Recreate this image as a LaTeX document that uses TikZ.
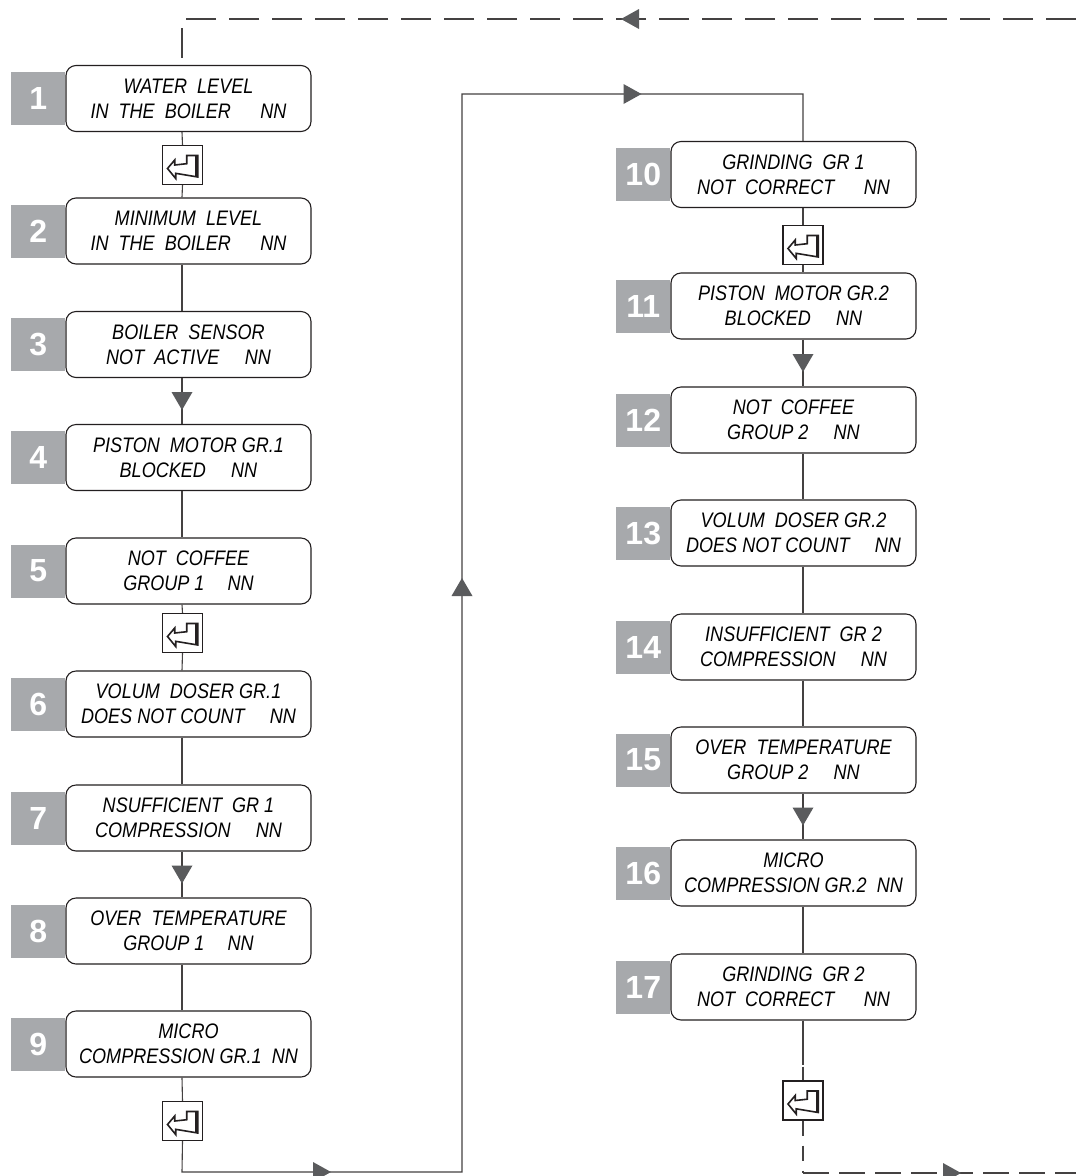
\documentclass[tikz,border=0pt]{standalone}
\usepackage{fontspec}
\newfontfamily\lcdfont{Liberation Sans}[FakeStretch=0.86]
\newfontfamily\numfont{Liberation Sans}
\usetikzlibrary{calc}
\definecolor{numgrey}{HTML}{A7A9AC}
\definecolor{arrgrey}{HTML}{5A5B5D}
\definecolor{linecol}{HTML}{231F20}
\begin{document}
\begin{tikzpicture}[x=1pt,y=-1pt,
  disp/.style={draw=linecol, line width=1.1pt, rounded corners=10pt,
    minimum width=245pt, minimum height=66pt, inner sep=0pt, align=center,
    execute at begin node={\rule{0pt}{27pt}},
    font=\lcdfont\itshape\fontsize{21}{25}\selectfont},
  numsq/.style={fill=numgrey, minimum width=54pt, minimum height=53pt,
    inner sep=0pt, text=white, anchor=east,
    font=\numfont\bfseries\fontsize{32}{32}\selectfont},
  keybox/.style={draw=linecol, fill=white, line width=1.1pt, minimum width=40pt,
    minimum height=39pt, inner sep=0pt,
    path picture={\begin{scope}[shift={(path picture bounding box.center)}]
      \draw[line width=1.6pt, line join=miter, linecol]
        (-15,3.5) -- (-7.8,-5) -- (-7.8,0) -- (4.2,-1.3) -- (4.2,-9.5)
        -- (15.2,-9.5) -- (15.2,12) -- (-6.8,8.3) -- (-6.8,13.5) -- cycle;
      \draw[line width=3pt, linecol] (14.2,-9.5) -- (14.2,11.5);
    \end{scope}}},
  conn/.style={draw=linecol!85!white, line width=1.1pt},
  dconn/.style={conn, dash pattern=on 30pt off 13pt},
  dtri/.pic={\fill[arrgrey] (-10.5,-9) -- (10.5,-9) -- (0,9) -- cycle;},
  utri/.pic={\fill[arrgrey] (-10.5,9) -- (10.5,9) -- (0,-9) -- cycle;},
  rtri/.pic={\fill[arrgrey] (-9,-10) -- (-9,10) -- (9,0) -- cycle;},
  ltri/.pic={\fill[arrgrey] (9,-10) -- (9,10) -- (-9,0) -- cycle;},
]
\useasboundingbox (0,0) rectangle (1076,1176);
\fill[white] (0,0) rectangle (1076,1176);

\coordinate (L) at (182,0);
\coordinate (R) at (803,0);

% left column displays
\node[disp] (b1) at (188.5,98.5) {WATER\ \ LEVEL\\IN\ \ THE\ \ BOILER\hspace{1.4em}NN};
\node[disp] (b2) at (188.5,231) {MINIMUM\ \ LEVEL\\IN\ \ THE\ \ BOILER\hspace{1.4em}NN};
\node[disp] (b3) at (188.5,344.5) {BOILER\ \ SENSOR\\NOT\ \ ACTIVE\hspace{1.2em}NN};
\node[disp] (b4) at (188.5,457.5) {PISTON\ \ MOTOR GR.1\\BLOCKED\hspace{1.2em}NN};
\node[disp] (b5) at (188.5,571) {NOT\ \ COFFEE\\GROUP 1\hspace{1.1em}NN};
\node[disp] (b6) at (188.5,704) {VOLUM\ \ DOSER GR.1\\DOES NOT COUNT\hspace{1.2em}NN};
\node[disp] (b7) at (188.5,818) {NSUFFICIENT\ \ GR 1\\COMPRESSION\hspace{1.2em}NN};
\node[disp] (b8) at (188.5,931) {OVER\ \ TEMPERATURE\\GROUP 1\hspace{1.1em}NN};
\node[disp] (b9) at (188.5,1044) {MICRO\\COMPRESSION GR.1\ \ NN};

% right column displays
\node[disp] (b10) at (793.5,174.5) {GRINDING\ \ GR 1\\NOT\ \ CORRECT\hspace{1.4em}NN};
\node[disp] (b11) at (793.5,306) {PISTON\ \ MOTOR GR.2\\BLOCKED\hspace{1.2em}NN};
\node[disp] (b12) at (793.5,420) {NOT\ \ COFFEE\\GROUP 2\hspace{1.2em}NN};
\node[disp] (b13) at (793.5,533) {VOLUM\ \ DOSER GR.2\\DOES NOT COUNT\hspace{1.2em}NN};
\node[disp] (b14) at (793.5,647) {INSUFFICIENT\ \ GR 2\\COMPRESSION\hspace{1.2em}NN};
\node[disp] (b15) at (793.5,760) {OVER\ \ TEMPERATURE\\GROUP 2\hspace{1.2em}NN};
\node[disp] (b16) at (793.5,873) {MICRO\\COMPRESSION GR.2\ \ NN};
\node[disp] (b17) at (793.5,987) {GRINDING\ \ GR 2\\NOT\ \ CORRECT\hspace{1.4em}NN};

% number squares
\foreach \i in {1,...,17} {
  \node[numsq] (n\i) at (b\i.west) {\i};
}

% enter keys
\node[keybox] (k1) at (182.5,165) {};
\node[keybox] (k5) at (182.5,633) {};
\node[keybox] (k9) at (182.5,1121) {};
\node[keybox] (k10) at (803,245) {};
\node[keybox] (k17) at (803,1100.5) {};

% turning points
\coordinate (cBL) at (182,1172);
\coordinate (cBR) at (462,1172);
\coordinate (cTR) at (462,94);
\coordinate (dTL) at (182,19);
\coordinate (dTE) at (1076,19);
\coordinate (dBL) at (803,1173);
\coordinate (dBE) at (1076,1173);

% left column connectors
\draw[conn] (b1.south -| L) -- (k1.north);
\draw[conn] (k1.south) -- (b2.north -| L);
\draw[conn] (b2.south -| L) -- (b3.north -| L);
\draw[conn] (b3.south -| L) -- (b4.north -| L);
\draw[conn] (b4.south -| L) -- (b5.north -| L);
\draw[conn] (b5.south -| L) -- (k5.north);
\draw[conn] (k5.south) -- (b6.north -| L);
\draw[conn] (b6.south -| L) -- (b7.north -| L);
\draw[conn] (b7.south -| L) -- (b8.north -| L);
\draw[conn] (b8.south -| L) -- (b9.north -| L);
\draw[conn] (b9.south -| L) -- (k9.north);
\draw[conn] (k9.south) -- (cBL) -- (cBR) -- (cTR) -- (cTR -| R) -- (b10.north -| R);

% right column connectors
\draw[conn] (b10.south -| R) -- (k10.north);
\draw[conn] (k10.south) -- (b11.north -| R);
\draw[conn] (b11.south -| R) -- (b12.north -| R);
\draw[conn] (b12.south -| R) -- (b13.north -| R);
\draw[conn] (b13.south -| R) -- (b14.north -| R);
\draw[conn] (b14.south -| R) -- (b15.north -| R);
\draw[conn] (b15.south -| R) -- (b16.north -| R);
\draw[conn] (b16.south -| R) -- (b17.north -| R);

% dashed return connectors
\draw[dconn] (dTE) -- (dTL) -- (b1.north -| L);
\draw[conn] (b17.south -| R) -- ++(0,44);
\draw[dconn, dash pattern=on 14pt off 10pt, dash phase=-46pt] (b17.south -| R) -- (k17.north);
\draw[dconn, dash pattern=on 15pt off 10pt] (k17.south) -- (dBL);
\draw[dconn, dash pattern=on 26pt off 10pt] (dBL) -- (dBE);

% arrowheads
\pic at ($(b3.south -| L)!.5!(b4.north -| L)$) {dtri};
\pic at ($(b7.south -| L)!.5!(b8.north -| L)$) {dtri};
\pic at ($(b11.south -| R)!.5!(b12.north -| R)$) {dtri};
\pic at ($(b15.south -| R)!.5!(b16.north -| R)$) {dtri};
\pic at ($(cBL)!0.5!(cBR)$) {rtri};
\pic at (462,587) {utri};
\pic at ($(cTR)!0.5!(cTR -| R)$) {rtri};
\pic at (630,19) {ltri};
\pic at (952,1173) {rtri};
\end{tikzpicture}
\end{document}
